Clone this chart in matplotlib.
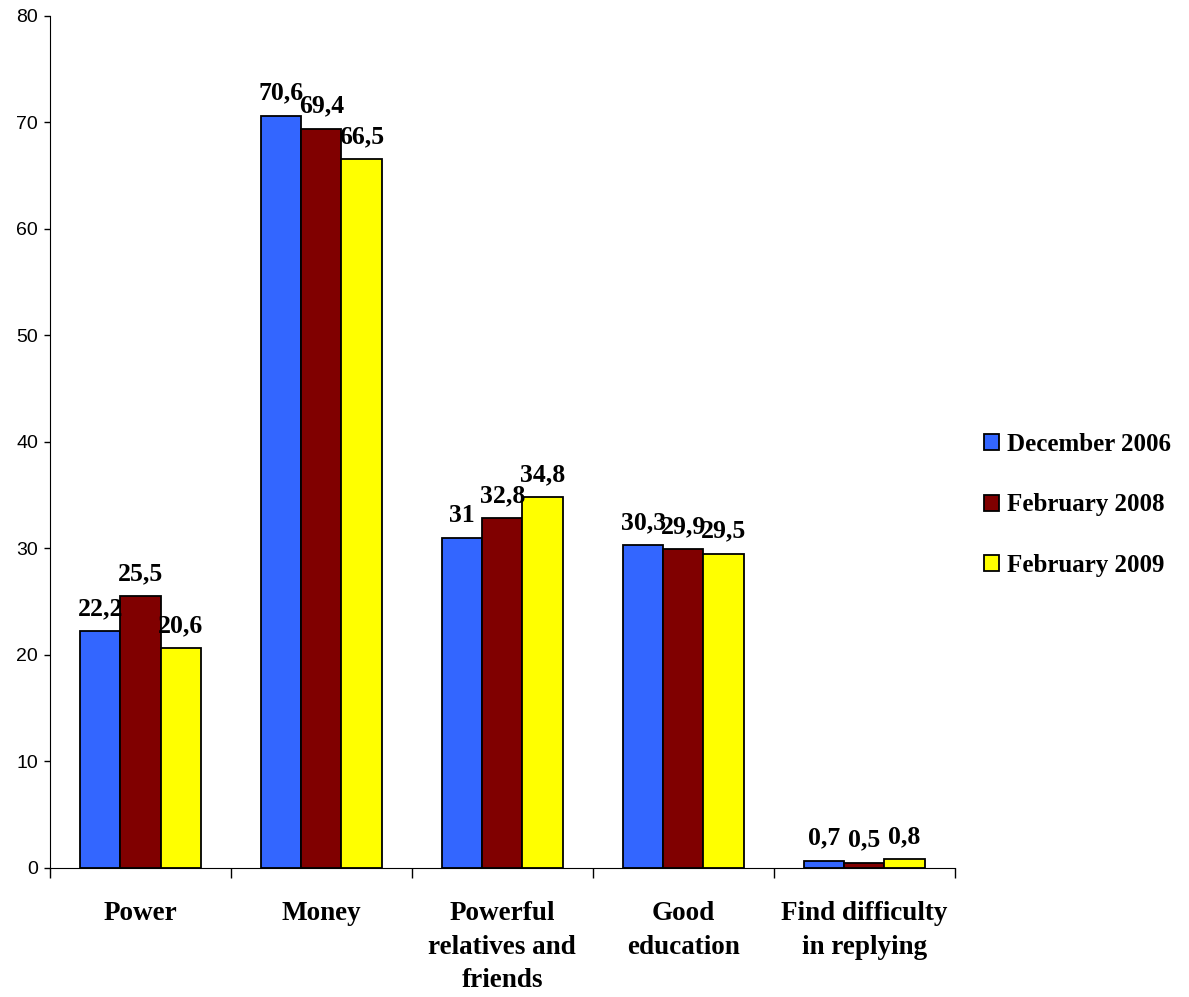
import numpy as np
import matplotlib
matplotlib.use("Agg")
import matplotlib.pyplot as plt

# Data
categories = ["Power", "Money", "Powerful\nrelatives and\nfriends",
              "Good\neducation", "Find difficulty\nin replying"]
series_names = ["December 2006", "February 2008", "February 2009"]
dec_2006 = [22.2, 70.6, 31, 30.3, 0.7]
feb_2008 = [25.5, 69.4, 32.8, 29.9, 0.5]
feb_2009 = [20.6, 66.5, 34.8, 29.5, 0.8]
colors = ["#3366FF", "#800000", "#FFFF00"]

serif = "Liberation Serif"
sans = "Liberation Sans"

fig = plt.figure(figsize=(11.89, 9.97), dpi=100)
ax = fig.add_axes([0.042, 0.1294, 0.761, 0.855])

x = np.arange(len(categories)) + 0.5
width = 0.222
all_series = [dec_2006, feb_2008, feb_2009]

for i, (vals, name, col) in enumerate(zip(all_series, series_names, colors)):
    pos = x + (i - 1) * width
    bars = ax.bar(pos, vals, width, color=col, edgecolor="black",
                  linewidth=1.3, label=name)
    for b, v in zip(bars, vals):
        ax.annotate(f"{v:g}".replace(".", ","),
                    (b.get_x() + b.get_width() / 2, b.get_height()),
                    xytext=(0, 8), textcoords="offset points",
                    ha="center", va="bottom", fontsize=18.5,
                    fontweight="bold", family=serif)

ax.set_xlim(0, len(categories))
ax.set_ylim(0, 80)
ax.set_yticks(np.arange(0, 81, 10))
for lab in ax.get_yticklabels():
    lab.set_family(sans)
    lab.set_fontsize(14)
ax.tick_params(axis="y", length=4.5, width=1, pad=4)

# boundaries get the tick marks, centres get the labels
ax.set_xticks(np.arange(len(categories) + 1))
ax.set_xticklabels([])
ax.set_xticks(x, minor=True)
ax.set_xticklabels(categories, minor=True, fontsize=19.5, fontweight="bold",
                   family=serif, linespacing=1.44)
ax.tick_params(axis="x", which="major", length=7, width=1)
ax.tick_params(axis="x", which="minor", length=0, pad=24)

ax.spines["top"].set_visible(False)
ax.spines["right"].set_visible(False)

leg = ax.legend(loc="center left", bbox_to_anchor=(0.809, 0.4935),
                bbox_transform=fig.transFigure, frameon=False,
                prop={"family": serif, "weight": "bold", "size": 18},
                handlelength=0.6, handleheight=0.6, handletextpad=0.3,
                labelspacing=1.5)

fig.savefig("out.png", dpi=100)
